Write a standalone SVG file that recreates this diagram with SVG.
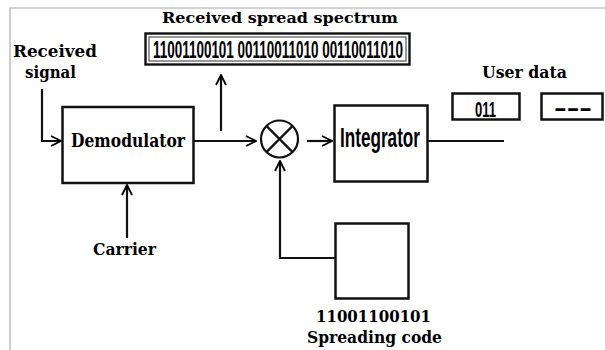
<svg xmlns="http://www.w3.org/2000/svg" width="605" height="350" viewBox="0 0 605 350">
<defs>
<marker id="arr" viewBox="0 0 12 12" refX="11" refY="6" markerWidth="12" markerHeight="12" markerUnits="userSpaceOnUse" orient="auto">
<path d="M1,1 L11,6 L1,11" fill="none" stroke="#000" stroke-width="1.8"/>
</marker>
</defs>
<style>
.box{fill:#fff;stroke:#111;stroke-width:2.5}
.thin{fill:none;stroke:#555;stroke-width:1.2}
.ln{fill:none;stroke:#111;stroke-width:2.2}
.ser{font-family:"DejaVu Serif","Liberation Serif",serif;font-weight:bold;fill:#000}
.cond{font-family:"Liberation Sans","DejaVu Sans",sans-serif;font-weight:bold;fill:#000}
</style>
<rect width="605" height="350" fill="#fff"/>
<path d="M10,350 V8 H605" fill="none" stroke="#c2c2c2" stroke-width="1.6"/>

<g id="connectors">
<path class="ln" d="M42,89 V141 H61" marker-end="url(#arr)"/>
<path class="ln" d="M127,238 V185" marker-end="url(#arr)"/>
<path class="ln" d="M194,141 H256" marker-end="url(#arr)"/>
<path class="ln" d="M221,131 V75" marker-end="url(#arr)"/>
<path class="ln" d="M307,141 H332" marker-end="url(#arr)"/>
<path class="ln" d="M335,258 H280 V161" marker-end="url(#arr)"/>
<path class="ln" d="M428,141 H504"/>
</g>

<g id="title"><text class="ser" x="162" y="23" font-size="14.5" textLength="236" lengthAdjust="spacingAndGlyphs">Received spread spectrum</text></g>

<g id="spread-box">
<rect x="145.5" y="33.5" width="264" height="31" fill="#fff" stroke="#111" stroke-width="2.4"/>
<rect class="thin" x="149" y="37" width="257" height="24"/>
<text class="cond" x="153" y="57.5" font-size="23" textLength="250" lengthAdjust="spacingAndGlyphs">11001100101 00110011010 00110011010</text>
</g>

<g id="received-signal">
<text class="ser" x="13" y="57" font-size="17.5" textLength="84" lengthAdjust="spacingAndGlyphs">Received</text>
<text class="ser" x="25" y="78" font-size="17.5" textLength="51" lengthAdjust="spacingAndGlyphs">signal</text>
</g>

<g id="demodulator">
<rect class="box" x="62.5" y="107" width="131" height="76"/>
<text class="ser" x="71" y="147" font-size="18" textLength="114" lengthAdjust="spacingAndGlyphs">Demodulator</text>
</g>

<g id="carrier"><text class="ser" x="93" y="255" font-size="17.5" textLength="63" lengthAdjust="spacingAndGlyphs">Carrier</text></g>

<g id="multiplier">
<circle cx="279.5" cy="139" r="18.5" fill="#fff" stroke="#111" stroke-width="2.2"/>
<path class="ln" d="M266.4,125.9 L292.6,152.1 M292.6,125.9 L266.4,152.1"/>
</g>

<g id="integrator">
<rect class="box" x="334.5" y="105.5" width="93" height="76"/>
<text class="cond" x="340" y="147" font-size="27" textLength="80" lengthAdjust="spacingAndGlyphs">Integrator</text>
</g>

<g id="user-data">
<text class="ser" x="482" y="78" font-size="16.5" font-weight="normal" textLength="85" lengthAdjust="spacingAndGlyphs">User data</text>
<rect class="box" x="452.5" y="93.5" width="67" height="26"/>
<text class="cond" x="475" y="117" font-size="22" textLength="21" lengthAdjust="spacingAndGlyphs">011</text>
<rect class="box" x="541.5" y="93.5" width="61" height="26"/>
<text class="cond" x="554" y="115" font-size="22" textLength="38" lengthAdjust="spacingAndGlyphs">---</text>
</g>

<g id="spreading-code">
<rect class="box" x="335.5" y="223.5" width="73" height="75"/>
<text class="ser" x="316" y="322" font-size="17.5" textLength="115" lengthAdjust="spacingAndGlyphs">11001100101</text>
<text class="ser" x="307" y="343" font-size="17.5" textLength="135" lengthAdjust="spacingAndGlyphs">Spreading code</text>
</g>
</svg>
